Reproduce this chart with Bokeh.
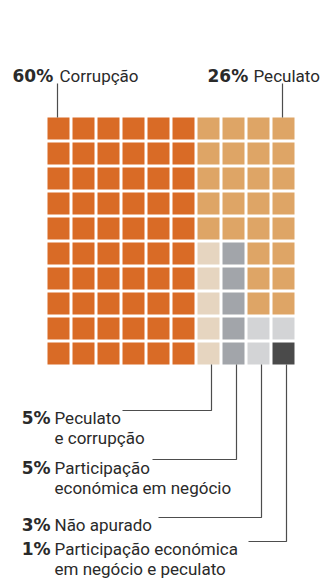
from bokeh.plotting import figure
from bokeh.models import Range1d, ColumnDataSource
from bokeh.core.properties import value
from bokeh.embed import file_html
from bokeh.resources import INLINE

# ---- data ----
categories = ["Corrupção", "Peculato", "Peculato e corrupção",
              "Participação económica em negócio", "Não apurado",
              "Participação económica em negócio e peculato"]
percents = [60, 26, 5, 5, 3, 1]
label_lines = [["Corrupção"], ["Peculato"], ["Peculato", "e corrupção"],
               ["Participação", "económica em negócio"], ["Não apurado"],
               ["Participação económica", "em negócio e peculato"]]
colors = ["#D96B26", "#DEA566", "#E6D5C0", "#A2A5AA", "#D3D4D6", "#4A4A4A"]

# ---- layout constants ----
W, H = 324, 581
LEFT, TOP, PITCH, SIZE = 47, 117, 25, 22
FONT = value("Roboto")
PFONT = value("DejaVu Sans")
TXT = "#2a2a2a"
LINE = "#4d4d4d"

# ---- assign waffle cells ----
cells = {}
def place(cat, order, n):
    k = 0
    for c in order:
        if k == n:
            break
        if c not in cells:
            cells[c] = cat
            k += 1

col_major = [(c, r) for c in range(10) for r in range(10)]
place(0, col_major, percents[0])
place(2, [(6, r) for r in range(9, -1, -1)], percents[2])
place(3, [(7, r) for r in range(9, -1, -1)], percents[3])
place(5, [(9, 9)], percents[5])
place(4, [(c, r) for r in range(9, -1, -1) for c in (8, 9)], percents[4])
place(1, col_major, percents[1])

def cx(col):
    return LEFT + col * PITCH + SIZE / 2
def cy(row):
    return TOP + row * PITCH + SIZE / 2

xs, ys, fc = [], [], []
for (c, r), cat in cells.items():
    xs.append(cx(c)); ys.append(cy(r)); fc.append(colors[cat])
src = ColumnDataSource(dict(x=xs, y=ys, color=fc))

p = figure(width=W, height=H, x_range=Range1d(0, W), y_range=Range1d(H, 0),
           output_backend="svg", toolbar_location=None,
           x_axis_location=None, y_axis_location=None,
           min_border=0, min_border_left=0, min_border_right=0,
           min_border_top=0, min_border_bottom=0)
p.outline_line_color = None
p.grid.visible = False
p.background_fill_color = "white"
p.border_fill_color = "white"

p.rect(x="x", y="y", width=SIZE, height=SIZE, fill_color="color",
       line_color=None, source=src)

grid_bottom = TOP + 9 * PITCH + SIZE

# ---- top labels ----
top_anchor_col = {0: 0, 1: 9}
top_pct_x = {0: 12, 1: 207}
top_lbl_x = {0: 59, 1: 253}
top_base = 75
lx, ly = [], []
for cat in (0, 1):
    x = cx(top_anchor_col[cat]) - 1
    lx.append([x, x]); ly.append([83, TOP])
    p.text(x=[top_pct_x[cat]], y=[top_base], text=[f"{percents[cat]}%"],
           text_font=PFONT, text_font_style="bold", text_font_size="17px",
           text_color=TXT, text_baseline="alphabetic", text_align="left")
    p.text(x=[top_lbl_x[cat]], y=[top_base], text=[label_lines[cat][0]],
           text_font=FONT, text_font_size="17px",
           text_color=TXT, text_baseline="alphabetic", text_align="left")

# ---- bottom labels ----
bottom_cats = [2, 3, 4, 5]
bottom_cols = [6, 7, 8, 9]
line_y = [410, 459, 517, 541]
line_x0 = [122, 152, 158, 248]
base_y = [417, 467, 524, 548]
for i, cat in enumerate(bottom_cats):
    x = cx(bottom_cols[i]) + 3
    lx.append([line_x0[i], x, x]); ly.append([line_y[i], line_y[i], grid_bottom])
    p.text(x=[50], y=[base_y[i]], text=[f"{percents[cat]}%"],
           text_font=PFONT, text_font_style="bold", text_font_size="17px",
           text_color=TXT, text_baseline="alphabetic", text_align="right")
    for j, t in enumerate(label_lines[cat]):
        p.text(x=[54], y=[base_y[i] + 20 * j], text=[t],
               text_font=FONT, text_font_size="17px",
               text_color=TXT, text_baseline="alphabetic", text_align="left")

p.multi_line(xs=lx, ys=ly, line_color=LINE, line_width=1.2)

open("out.html", "w").write(file_html(p, INLINE))
